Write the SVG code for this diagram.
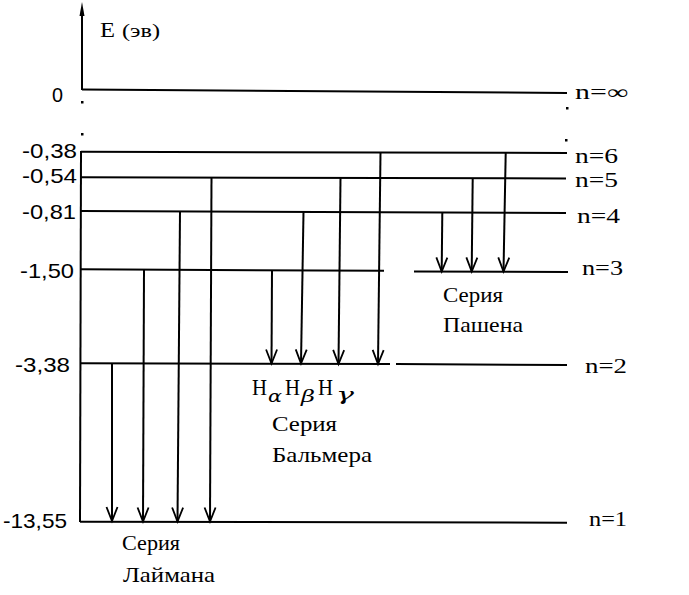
<svg xmlns="http://www.w3.org/2000/svg" width="689" height="595" viewBox="0 0 689 595">
<style>
.lvl{stroke:#000;stroke-width:2;fill:none}
.tr{stroke:#000;stroke-width:2;fill:none;marker-end:url(#v)}
.num{font-family:"Liberation Sans",Arial,sans-serif;font-size:21px;fill:#000}
.nl{font-family:"Liberation Serif","Times New Roman",serif;font-size:20px;fill:#000}
.ser{font-family:"Liberation Serif","Times New Roman",serif;font-size:21px;fill:#000}
.hh{font-family:"Liberation Serif","Times New Roman",serif;font-size:24px;fill:#000}
.gr{font-family:"DejaVu Serif","Liberation Serif",serif;font-size:17px;font-style:italic;fill:#000}
</style>
<defs>
<marker id="v" markerUnits="userSpaceOnUse" markerWidth="20" markerHeight="20" viewBox="-16 -10 20 20" refX="0" refY="0" orient="auto" overflow="visible">
<path d="M-14,-5.5 L0,0 L-14,5.5" fill="none" stroke="#000" stroke-width="1.8"/>
</marker>
</defs>
<rect width="689" height="595" fill="#fff"/>

<g id="axis">
<line x1="82" y1="14" x2="82" y2="90" class="lvl"/>
<polygon points="82,2 79.5,16 84.5,16" fill="#000"/>
<rect x="81" y="101" width="2.5" height="2.5" fill="#000"/>
<rect x="81" y="133" width="2.5" height="2.5" fill="#000"/>
<rect x="566" y="107" width="2.5" height="2.5" fill="#000"/>
<rect x="565" y="139" width="2.5" height="2.5" fill="#000"/>
<line x1="81" y1="151" x2="80" y2="522" class="lvl"/>
<text x="100" y="37" font-family="Liberation Serif, serif" font-size="22" fill="#000" textLength="15" lengthAdjust="spacingAndGlyphs">E</text>
<text x="122" y="37" font-family="Liberation Serif, serif" font-size="19" fill="#000" textLength="38" lengthAdjust="spacingAndGlyphs">(эв)</text>
</g>

<g id="level-inf">
<line x1="82" y1="89.5" x2="567" y2="93" class="lvl"/>
<text x="52" y="102" class="num" font-size="22" textLength="11" lengthAdjust="spacingAndGlyphs">0</text>
<text x="575" y="99" class="nl" textLength="53" lengthAdjust="spacingAndGlyphs">n=∞</text>
</g>
<g id="level-6">
<line x1="81" y1="151.7" x2="567" y2="153" class="lvl"/>
<text x="22" y="158" class="num" textLength="55" lengthAdjust="spacingAndGlyphs">-0,38</text>
<text x="575" y="163" class="nl" textLength="43" lengthAdjust="spacingAndGlyphs">n=6</text>
</g>
<g id="level-5">
<line x1="81" y1="177.3" x2="566" y2="178.5" class="lvl"/>
<text x="22" y="183" class="num" textLength="55" lengthAdjust="spacingAndGlyphs">-0,54</text>
<text x="575" y="187" class="nl" textLength="43" lengthAdjust="spacingAndGlyphs">n=5</text>
</g>
<g id="level-4">
<line x1="81" y1="211" x2="566" y2="213" class="lvl"/>
<text x="22" y="219" class="num" textLength="54" lengthAdjust="spacingAndGlyphs">-0,81</text>
<text x="577" y="223" class="nl" textLength="43" lengthAdjust="spacingAndGlyphs">n=4</text>
</g>
<g id="level-3">
<line x1="80" y1="269.3" x2="384" y2="270.8" class="lvl"/>
<line x1="414" y1="271.5" x2="568" y2="272" class="lvl"/>
<text x="20" y="278" class="num" textLength="54" lengthAdjust="spacingAndGlyphs">-1,50</text>
<text x="582" y="275" class="nl" textLength="41" lengthAdjust="spacingAndGlyphs">n=3</text>
</g>
<g id="level-2">
<line x1="80" y1="363.3" x2="390" y2="364" class="lvl"/>
<line x1="396" y1="364" x2="567" y2="365" class="lvl"/>
<text x="15" y="372" class="num" textLength="55" lengthAdjust="spacingAndGlyphs">-3,38</text>
<text x="585" y="373" class="nl" textLength="42" lengthAdjust="spacingAndGlyphs">n=2</text>
</g>
<g id="level-1">
<line x1="80" y1="521.7" x2="567" y2="522.7" class="lvl"/>
<text x="3" y="528" class="num" textLength="64" lengthAdjust="spacingAndGlyphs">-13,55</text>
<text x="589" y="526" class="nl" textLength="38" lengthAdjust="spacingAndGlyphs">n=1</text>
</g>

<g id="connectors">
<line x1="112" y1="363.5" x2="112" y2="521" class="tr"/>
<line x1="144" y1="269.5" x2="143" y2="521.5" class="tr"/>
<line x1="180" y1="211.5" x2="177.5" y2="521.5" class="tr"/>
<line x1="211.5" y1="177.5" x2="210" y2="521.5" class="tr"/>

<line x1="272" y1="270" x2="271.5" y2="363.5" class="tr"/>
<line x1="303.5" y1="212" x2="301" y2="363.5" class="tr"/>
<line x1="340.5" y1="178" x2="338.5" y2="364" class="tr"/>
<line x1="380.5" y1="152.5" x2="378" y2="364" class="tr"/>

<line x1="442.3" y1="212.5" x2="441.7" y2="271.5" class="tr"/>
<line x1="472.7" y1="178.5" x2="471.7" y2="271.5" class="tr"/>
<line x1="505.7" y1="153" x2="503.5" y2="271.5" class="tr"/>
</g>

<g id="lyman-label">
<text x="122" y="550" class="ser" textLength="58" lengthAdjust="spacingAndGlyphs">Серия</text>
<text x="123" y="582" class="ser" textLength="92" lengthAdjust="spacingAndGlyphs">Лаймана</text>
</g>
<g id="balmer-label">
<text x="252" y="395" class="hh" textLength="15" lengthAdjust="spacingAndGlyphs">H</text>
<text x="268" y="402" class="gr" textLength="14" lengthAdjust="spacingAndGlyphs">α</text>
<text x="285" y="395" class="hh" textLength="15" lengthAdjust="spacingAndGlyphs">H</text>
<text x="301" y="402" class="gr" textLength="14" lengthAdjust="spacingAndGlyphs">β</text>
<text x="318" y="395" class="hh" textLength="15" lengthAdjust="spacingAndGlyphs">H</text>
<text x="336" y="400" class="gr" textLength="18" lengthAdjust="spacingAndGlyphs">γ</text>
<text x="272" y="431" class="ser" textLength="65" lengthAdjust="spacingAndGlyphs">Серия</text>
<text x="272" y="462" class="ser" textLength="100" lengthAdjust="spacingAndGlyphs">Бальмера</text>
</g>
<g id="paschen-label">
<text x="443" y="302" class="ser" textLength="60" lengthAdjust="spacingAndGlyphs">Серия</text>
<text x="443" y="332" class="ser" textLength="80" lengthAdjust="spacingAndGlyphs">Пашена</text>
</g>
</svg>
